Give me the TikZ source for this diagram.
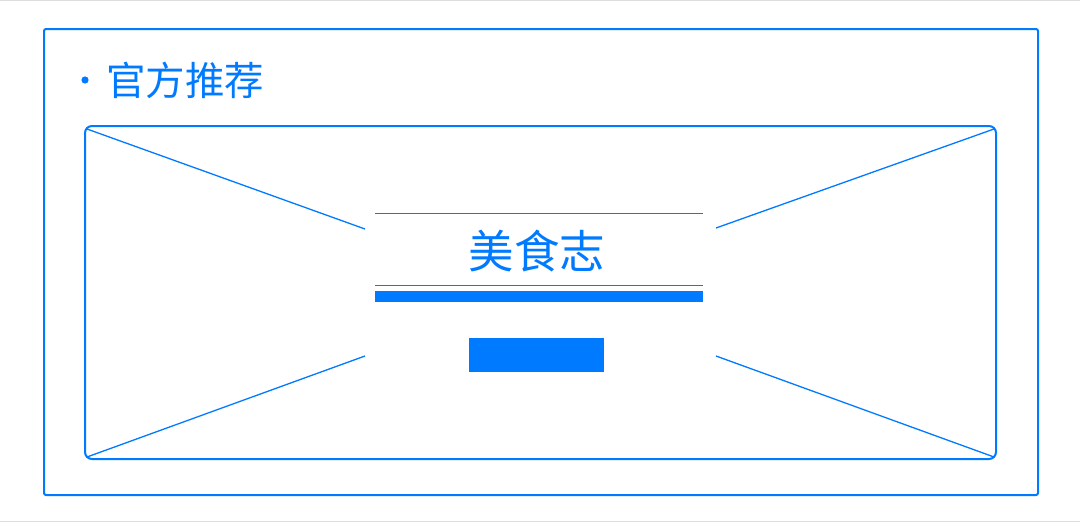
\documentclass[tikz,border=0pt]{standalone}
\usepackage{fontspec}
\newfontfamily\cjk{Noto Sans CJK SC}
\definecolor{ios}{RGB}{0,122,255}
\definecolor{edge}{RGB}{221,221,221}
\begin{document}
\begin{tikzpicture}[x=1pt,y=-1pt,
  frame/.style={draw=ios,line width=2pt},
  diag/.style={draw=ios,line width=1.3pt},
  thin/.style={draw=ios,line width=1pt},
  title/.style={text=ios,font=\cjk\fontsize{39.5}{42}\selectfont,inner sep=0pt},
  bigtitle/.style={text=ios,font=\cjk\fontsize{45.5}{48}\selectfont,inner sep=0pt}]
\useasboundingbox (0,0) rectangle (1080,522);
\fill[white] (0,0) rectangle (1080,522);
\draw[edge,line width=1pt] (0,0.5) -- (1080,0.5);
\draw[edge,line width=1pt] (0,521.5) -- (1080,521.5);
% outer frame
\draw[frame,rounded corners=2pt] (44,29) rectangle (1038,495);
% bullet and heading
\fill[ios] (85,80) circle (3.6);
\node[title,anchor=west] (head) at (106,80) {官方推荐};
% inner card
\draw[frame,rounded corners=7pt] (85,126) rectangle (996,459);
\coordinate (tl) at (87,129);
\coordinate (tr) at (994,129);
\coordinate (bl) at (87,457);
\coordinate (br) at (994,457);
\coordinate (tli) at (365,229);
\coordinate (tri) at (716,228);
\coordinate (bli) at (365,356);
\coordinate (bri) at (716,356);
\draw[diag] (tl) -- (tli);
\draw[diag] (tr) -- (tri);
\draw[diag] (bl) -- (bli);
\draw[diag] (br) -- (bri);
% title block
\coordinate (l1a) at (375,213.5);
\coordinate (l1b) at (703,213.5);
\coordinate (l2a) at (375,285.5);
\coordinate (l2b) at (703,285.5);
\draw[thin] (l1a) -- (l1b);
\draw[thin] (l2a) -- (l2b);
\node[bigtitle] (name) at (537,251) {美食志};
\fill[ios] (375,291) rectangle (703,302);
\fill[ios] (469,338) rectangle (604,372);
\end{tikzpicture}
\end{document}
